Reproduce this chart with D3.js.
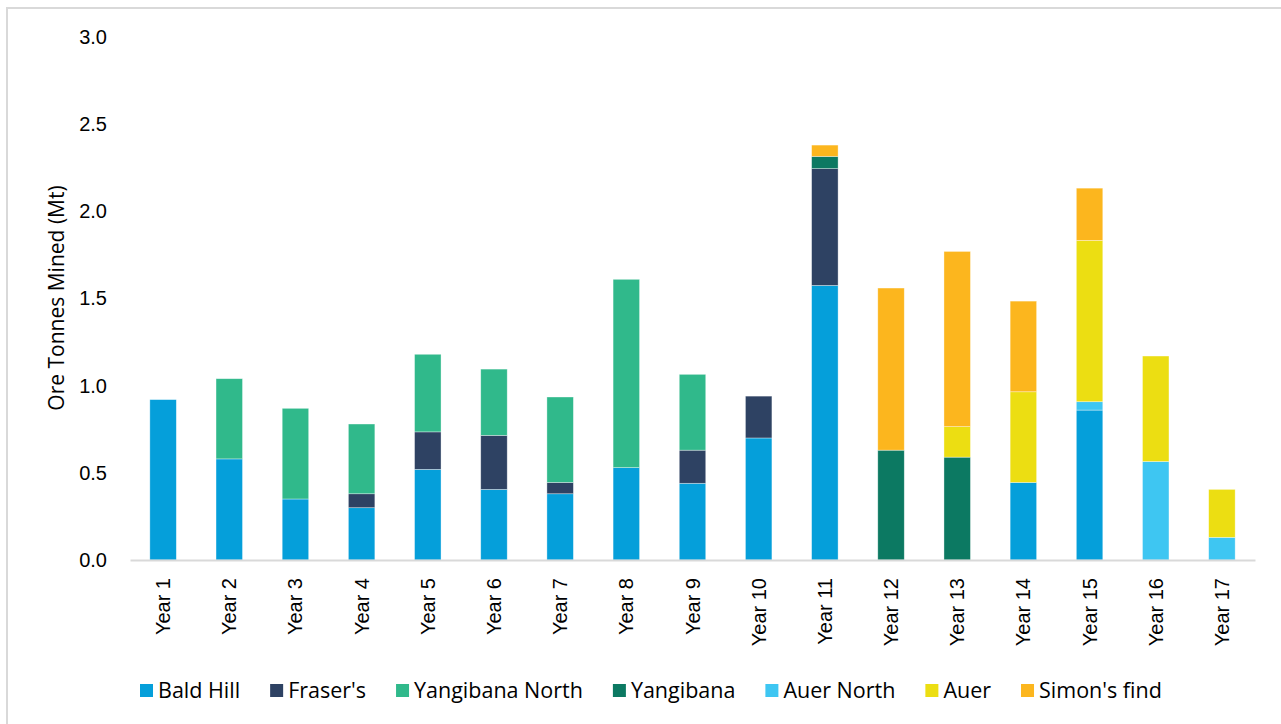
<!DOCTYPE html>
<html>
<head>
<meta charset="utf-8">
<script src="https://cdn.jsdelivr.net/npm/d3@7"></script>
<style>
  body { margin: 0; background: #fff; }
  svg { font-family: "Open Sans", "Noto Sans", sans-serif; }
</style>
</head>
<body>
<svg id="chart" width="1281" height="724"></svg>
<script>
// chart data
const years = ["Year 1","Year 2","Year 3","Year 4","Year 5","Year 6","Year 7","Year 8","Year 9",
               "Year 10","Year 11","Year 12","Year 13","Year 14","Year 15","Year 16","Year 17"];
const seriesNames  = ["Bald Hill","Fraser's","Yangibana North","Yangibana","Auer North","Auer","Simon's find"];
const seriesColors = ["#059fda","#2e4263","#30b98b","#0c7962","#3ec6f2","#ecde12","#fcb61e"];

const baldHill       = [0.92,0.58,0.35,0.30,0.52,0.405,0.38,0.53,0.44,0.70,1.575,0,0,0.445,0.86,0,0];
const frasers        = [0,0,0,0.08,0.215,0.31,0.065,0,0.19,0.24,0.67,0,0,0,0,0,0];
const yangibanaNorth = [0,0.46,0.52,0.40,0.445,0.38,0.49,1.08,0.435,0,0,0,0,0,0,0,0];
const yangibana      = [0,0,0,0,0,0,0,0,0,0,0.07,0.63,0.59,0,0,0,0];
const auerNorth      = [0,0,0,0,0,0,0,0,0,0,0,0,0,0,0.048,0.565,0.13];
const auer           = [0,0,0,0,0,0,0,0,0,0,0,0,0.175,0.52,0.925,0.605,0.275];
const simonsFind     = [0,0,0,0,0,0,0,0,0,0,0.065,0.93,1.005,0.52,0.30,0,0];
const yTicks = [0,0.5,1.0,1.5,2.0,2.5,3.0];

const seriesValues = [baldHill, frasers, yangibanaNorth, yangibana, auerNorth, auer, simonsFind];

// build rows for d3.stack
const rows = years.map((yr, i) => {
  const r = {year: yr};
  seriesNames.forEach((s, j) => r[s] = seriesValues[j][i]);
  return r;
});

const svg = d3.select("#chart");
const plotLeft = 130, plotRight = 1255, plotTop = 37, plotBottom = 560;

// outer frame (only left/top visible in the reference)
svg.append("rect")
  .attr("x", 7).attr("y", 8)
  .attr("width", 1290).attr("height", 730)
  .attr("fill", "none")
  .attr("stroke", "#d9d9d9")
  .attr("stroke-width", 2);

const x = d3.scaleBand().domain(years).range([plotLeft, plotRight]).paddingInner(0.6).paddingOuter(0.3);
const y = d3.scaleLinear().domain([0, 3]).range([plotBottom, plotTop]);
const color = d3.scaleOrdinal().domain(seriesNames).range(seriesColors);

const stacked = d3.stack().keys(seriesNames)(rows);

svg.append("g")
  .selectAll("g")
  .data(stacked)
  .enter().append("g")
    .attr("fill", d => color(d.key))
  .selectAll("rect")
  .data(d => d.filter(p => p[1] - p[0] > 0))
  .enter().append("rect")
    .attr("x", d => x(d.data.year))
    .attr("y", d => y(d[1]))
    .attr("width", x.bandwidth())
    .attr("height", d => y(d[0]) - y(d[1]))
    .attr("stroke", "#fff")
    .attr("stroke-opacity", 0.5)
    .attr("stroke-width", 0.7);

// x axis
const xAxis = svg.append("g")
  .attr("transform", `translate(0,${plotBottom})`)
  .call(d3.axisBottom(x).tickSize(0));
xAxis.select(".domain").attr("stroke", "#d9d9d9").attr("stroke-width", 2);
xAxis.selectAll("text")
  .attr("font-size", 20)
  .attr("fill", "#000")
  .style("text-anchor", "end")
  .attr("transform", "rotate(-90)")
  .attr("x", -18)
  .attr("y", 0)
  .attr("dy", "0.35em");

// y axis
const yAxis = svg.append("g")
  .attr("transform", `translate(${plotLeft},0)`)
  .call(d3.axisLeft(y).tickValues(yTicks).tickFormat(d3.format(".1f")).tickSize(0).tickPadding(23));
yAxis.select(".domain").remove();
yAxis.selectAll("text").attr("font-size", 20).attr("fill", "#000");

svg.append("text")
  .attr("transform", "rotate(-90)")
  .attr("x", -298)
  .attr("y", 64)
  .attr("text-anchor", "middle")
  .attr("font-size", 21)
  .attr("fill", "#000")
  .text("Ore Tonnes Mined (Mt)");

// legend
const legend = svg.append("g").attr("transform", "translate(140,684)");
let lx = 0;
seriesNames.forEach((s, i) => {
  const item = legend.append("g").attr("transform", `translate(${lx},0)`);
  item.append("rect").attr("width", 13).attr("height", 13).attr("fill", seriesColors[i]);
  const t = item.append("text")
    .attr("x", 18).attr("y", 6.5).attr("dy", "0.35em")
    .attr("font-size", 21.5).attr("fill", "#000")
    .text(s);
  lx += 18 + t.node().getComputedTextLength() + 30;
});
</script>
</body>
</html>
